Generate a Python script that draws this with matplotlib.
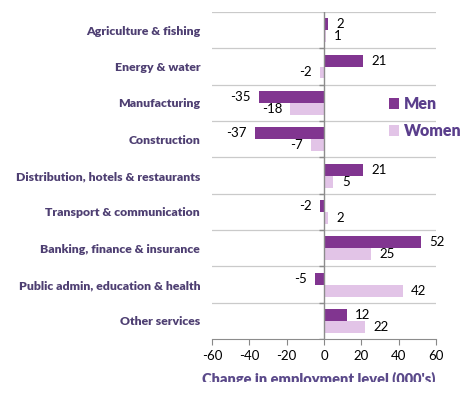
import matplotlib
matplotlib.use("Agg")
import matplotlib.pyplot as plt
import numpy as np
from matplotlib.transforms import Bbox, TransformedBbox

# change in employment level, thousands
sectors = [
    "Agriculture & fishing",
    "Energy & water",
    "Manufacturing",
    "Construction",
    "Distribution, hotels & restaurants",
    "Transport & communication",
    "Banking, finance & insurance",
    "Public admin, education & health",
    "Other services",
]
men = [2, 21, -35, -37, 21, -2, 52, -5, 12]
women = [1, -2, -18, -7, 5, 2, 25, 42, 22]
x_ticks = [-60, -40, -20, 0, 20, 40, 60]

MEN_COL = "#813590"
WOMEN_COL = "#E2C4E7"
LABEL_COL = "#4E3F72"
GRID_COL = "#CACACA"

plt.rcParams["font.family"] = ["Lato", "DejaVu Sans"]

fig = plt.figure(figsize=(4.68, 3.99), dpi=100)
ax = fig.add_axes([0.453, 0.150, 0.479, 0.820])

n = len(sectors)
centers = np.arange(n)[::-1] + 0.5
h = 0.33

b_men = ax.barh(centers + h / 2, men, height=h, color=MEN_COL, label="Men", zorder=3)
b_women = ax.barh(centers - h / 2, women, height=h, color=WOMEN_COL, label="Women", zorder=3)

for bars, vals in ((b_men, men), (b_women, women)):
    for bar, v in zip(bars, vals):
        y = bar.get_y() + bar.get_height() / 2
        off = 6 if v >= 0 else -6
        ax.annotate(f"{v}", (v, y), xytext=(off, 0), textcoords="offset points",
                    ha="left" if v >= 0 else "right", va="center",
                    fontsize=9.5, color="black")

ax.set_xlim(-60, 60)
ax.set_ylim(0, n)
ax.set_xticks(x_ticks)
ax.set_xticklabels([str(t) for t in x_ticks], fontsize=9.5)
ax.tick_params(axis="x", length=4, color="#888888", pad=4)

ax.set_yticks(centers)
ax.set_yticklabels(sectors, fontsize=8.8, fontweight="heavy", color=LABEL_COL)
ax.tick_params(axis="y", length=0, pad=8.5)

# horizontal gridlines between sectors
for b in range(1, n + 1):
    ax.axhline(b, color=GRID_COL, linewidth=0.9, zorder=1)
ax.axvline(0, color="#8C8C8C", linewidth=1.0, zorder=4)
ax.hlines(np.arange(n), -2.5, 0, color="#8C8C8C", linewidth=1.0, zorder=4)

for side in ("top", "right", "left"):
    ax.spines[side].set_visible(False)
ax.spines["bottom"].set_color("#8C8C8C")

leg = ax.legend(loc="upper left", bbox_to_anchor=(0.8, 0.795), bbox_transform=fig.transFigure,
                frameon=False, handlelength=0.65, handleheight=0.65, handletextpad=0.3,
                labelspacing=0.7, prop={"size": 11.5, "weight": "heavy"})
for t in leg.get_texts():
    t.set_color("#5A3E8C")

xl = fig.text(0.68, 0.05, "Change in employment level (000's)", ha="center", va="center",
              fontsize=10.5, fontweight="heavy", color="#5B4A8A")
clip = TransformedBbox(Bbox([[0, 1 - 382 / 399], [1, 1]]), fig.transFigure)
xl.set_clip_box(clip)
xl.set_clip_on(True)

fig.savefig("out.png", dpi=100)
